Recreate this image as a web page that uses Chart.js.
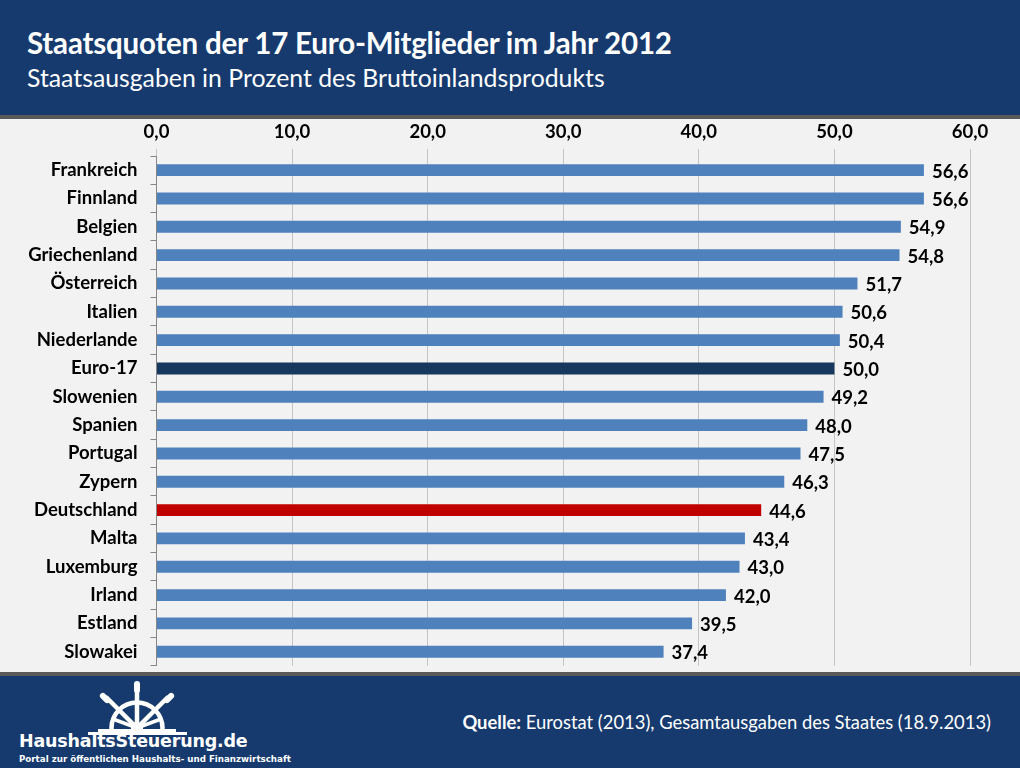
<!DOCTYPE html>
<html>
<head>
<meta charset="utf-8">
<script src="https://cdn.jsdelivr.net/npm/chart.js@4"></script>
<style>
  html,body{margin:0;padding:0;}
  body{width:1020px;height:768px;position:relative;overflow:hidden;background:#f2f2f2;font-family:Lato,"Open Sans",sans-serif;}
  #header{position:absolute;left:0;top:0;width:1020px;height:115px;background:#163a6e;}
  #hline{position:absolute;left:0;top:115px;width:1020px;height:4px;background:#5a5a5a;}
  #fline{position:absolute;left:0;top:672px;width:1020px;height:4px;background:#5a5a5a;}
  #footer{position:absolute;left:0;top:676px;width:1020px;height:92px;background:#163a6e;}
  #title{position:absolute;left:27px;top:25px;color:#fff;font:bold 29.5px Lato,sans-serif;letter-spacing:-0.2px;white-space:nowrap;}
  #subtitle{position:absolute;left:27px;top:63px;color:#fff;font:24.8px Lato,sans-serif;white-space:nowrap;}
  #source{position:absolute;right:29px;top:711px;color:#fff;font:18.4px Lato,sans-serif;white-space:nowrap;}
  #logo1{position:absolute;left:19px;top:731px;color:#fff;font:bold 17.5px "DejaVu Sans",sans-serif;white-space:nowrap;letter-spacing:-0.2px;}
  #logo2{position:absolute;left:19px;top:754px;color:#fff;font:bold 8.7px "DejaVu Sans",sans-serif;white-space:nowrap;}
  #wheel{position:absolute;left:80px;top:678px;}
  #wrap{position:absolute;left:0;top:119px;width:1020px;height:571px;}
  canvas{display:block;}
</style>
</head>
<body>
<div id="header"></div>
<div id="hline"></div>
<div id="title">Staatsquoten der 17 Euro-Mitglieder im Jahr 2012</div>
<div id="subtitle">Staatsausgaben in Prozent des Bruttoinlandsprodukts</div>
<div id="wrap"><canvas id="c" width="1020" height="571"></canvas></div>
<div id="fline"></div>
<div id="footer"></div>
<svg id="wheel" width="120" height="60" viewBox="0 0 120 60">
  <defs><clipPath id="top"><rect x="0" y="0" width="120" height="51"/></clipPath></defs>
  <g clip-path="url(#top)" stroke="#fff" fill="none">
    <circle cx="57" cy="50" r="25.5" stroke-width="4.5"/>
    <g stroke-width="3.5">
      <line x1="57" y1="50" x2="33" y2="41"/>
      <line x1="57" y1="50" x2="81" y2="41"/>
    </g>
    <g stroke-width="4.5" stroke-linecap="round">
      <line x1="57" y1="50" x2="57" y2="8"/>
      <line x1="57" y1="50" x2="27" y2="20"/>
      <line x1="57" y1="50" x2="87" y2="20"/>
    </g>
    <g fill="#fff" stroke="none">
      <rect x="54" y="3" width="6" height="12" rx="3"/>
      <rect x="22" y="14" width="6" height="12" rx="3" transform="rotate(-45 25 20)"/>
      <rect x="86" y="14" width="6" height="12" rx="3" transform="rotate(45 89 20)"/>
      <circle cx="57" cy="50" r="6"/>
    </g>
  </g>
  <g fill="#fff">
    <rect x="18" y="51" width="78" height="3"/>
    <rect x="8" y="54" width="99" height="3"/>
  </g>
</svg>
<div id="logo1">HaushaltsSteuerung.de</div>
<div id="logo2">Portal zur öffentlichen Haushalts- und Finanzwirtschaft</div>
<div id="source"><b>Quelle:</b> Eurostat (2013), Gesamtausgaben des Staates (18.9.2013)</div>
<script>
const categories = ["Frankreich","Finnland","Belgien","Griechenland","Österreich","Italien","Niederlande","Euro-17","Slowenien","Spanien","Portugal","Zypern","Deutschland","Malta","Luxemburg","Irland","Estland","Slowakei"];
const values = [56.6,56.6,54.9,54.8,51.7,50.6,50.4,50.0,49.2,48.0,47.5,46.3,44.6,43.4,43.0,42.0,39.5,37.4];
const xTicks = [0,10,20,30,40,50,60];
const highlight = {"Euro-17":"#17375e","Deutschland":"#c00000"};
const baseColor = "#4f81bd";
const fmt = v => v.toFixed(1).replace('.', ',');

const valueLabels = {
  id:'valueLabels',
  afterDatasetsDraw(chart){
    const ctx = chart.ctx;
    const meta = chart.getDatasetMeta(0);
    ctx.save();
    ctx.font = 'bold 18.5px Lato, sans-serif';
    ctx.fillStyle = '#000';
    ctx.textBaseline = 'middle';
    ctx.textAlign = 'left';
    meta.data.forEach((bar,i)=>{
      ctx.fillText(fmt(values[i]), bar.x + 8, bar.y + 1.5);
    });
    ctx.restore();
  }
};

new Chart(document.getElementById('c'), {
  type:'bar',
  data:{
    labels:categories,
    datasets:[{
      data:values,
      backgroundColor:categories.map(c=>highlight[c]||baseColor),
      barPercentage:0.42,
      categoryPercentage:1.0
    }]
  },
  options:{
    indexAxis:'y',
    responsive:false,
    maintainAspectRatio:false,
    animation:false,
    layout:{padding:{left:0,right:50,top:0,bottom:5}},
    plugins:{legend:{display:false},tooltip:{enabled:false}},
    scales:{
      x:{
        position:'top',
        min:0,max:60,
        afterBuildTicks(scale){ scale.ticks = xTicks.map(v=>({value:v})); },
        afterFit(scale){ scale.height = 37; },
        border:{display:false},
        grid:{color:'#c4c4c4',lineWidth:1,tickLength:7,drawTicks:true},
        ticks:{color:'#000',font:{family:'Lato',weight:'bold',size:18.5},padding:6,callback:v=>fmt(v)}
      },
      y:{
        afterFit(scale){ scale.width = 156.5; },
        border:{display:true,color:'#868686',width:1},
        grid:{drawOnChartArea:false,offset:true,color:'#868686',tickLength:6},
        ticks:{color:'#000',font:{family:'Lato',weight:'bold',size:18.5},padding:13}
      }
    }
  },
  plugins:[valueLabels]
});
</script>
</body>
</html>
